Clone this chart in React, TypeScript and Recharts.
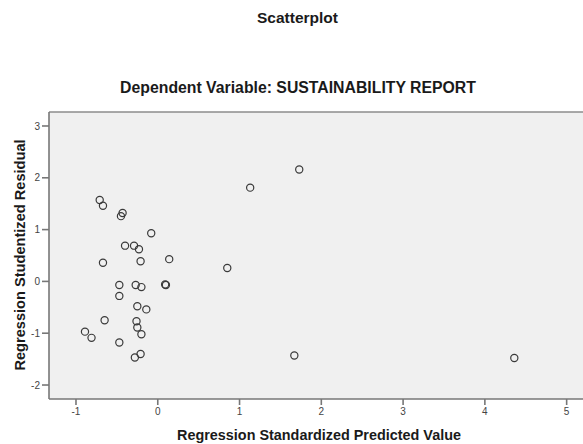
import { ScatterChart, Scatter, XAxis, YAxis, CartesianGrid, ReferenceLine } from "recharts";

// standardized predicted values (x) and studentized residuals (y)
const predicted = [
  -0.71, -0.67, -0.43, -0.45, -0.08, -0.4, -0.29, -0.23, -0.67, -0.21, 0.14,
  1.13, 1.73, 0.85, -0.47, -0.27, -0.2, 0.09, 0.1, -0.47, -0.25, -0.14,
  -0.65, -0.26, -0.25, -0.2, -0.89, -0.81, -0.47, -0.21, -0.28, 1.67, 4.36,
];
const residuals = [
  1.57, 1.46, 1.32, 1.26, 0.93, 0.69, 0.69, 0.62, 0.36, 0.39, 0.43,
  1.81, 2.16, 0.26, -0.07, -0.07, -0.11, -0.06, -0.07, -0.28, -0.48, -0.54,
  -0.75, -0.77, -0.89, -1.02, -0.97, -1.09, -1.18, -1.4, -1.47, -1.43, -1.48,
];
const xTicks = [-1, 0, 1, 2, 3, 4, 5];
const yTicks = [-2, -1, 0, 1, 2, 3];

const X_DOMAIN: [number, number] = [-1.33, 5.2];
const Y_DOMAIN: [number, number] = [-2.27, 3.27];

const points = predicted.map((x, i) => ({ x, y: residuals[i] }));

const font = "'Liberation Sans', Arial, sans-serif";

const Ring = (props: any) => {
  const { cx, cy } = props;
  if (cx == null || cy == null) return null;
  return <circle cx={cx} cy={cy} r={3.6} fill="none" stroke="#3a3a3a" strokeWidth={1.2} />;
};

export default function App() {
  return (
    <div style={{ position: "absolute", left: 0, top: 0, width: 583, height: 444, background: "#fff", fontFamily: font }}>
      <ScatterChart width={583} height={444} margin={{ top: 112, right: 0, bottom: 0, left: 0 }}>
        <CartesianGrid fill="#f0f0f0" horizontal={false} vertical={false} />
        <XAxis
          type="number"
          dataKey="x"
          domain={X_DOMAIN}
          ticks={xTicks}
          allowDataOverflow
          height={45}
          tickSize={6}
          tickMargin={3}
          stroke="#777"
          strokeWidth={1.6}
          tick={{ fontSize: 10, fill: "#444", fontFamily: font }}
        />
        <YAxis
          type="number"
          dataKey="y"
          domain={Y_DOMAIN}
          ticks={yTicks}
          allowDataOverflow
          width={49}
          tickSize={7}
          tickMargin={2}
          stroke="#777"
          strokeWidth={1.6}
          tick={{ fontSize: 10, fill: "#444", fontFamily: font }}
        />
        <ReferenceLine y={Y_DOMAIN[1]} stroke="#8c8c8c" strokeWidth={1.4} />
        <Scatter data={points} shape={Ring} isAnimationActive={false} />
      </ScatterChart>
      <svg width={583} height={444} style={{ position: "absolute", left: 0, top: 0, pointerEvents: "none" }}>
        <text x={297.5} y={23} textAnchor="middle" fontSize={15.5} fontWeight="bold" fill="#1a1a1a" fontFamily={font}>
          Scatterplot
        </text>
        <text x={298} y={93} textAnchor="middle" fontSize={15.8} fontWeight="bold" fill="#1a1a1a" fontFamily={font}>
          Dependent Variable: SUSTAINABILITY REPORT
        </text>
        <text x={319} y={440} textAnchor="middle" fontSize={14.4} fontWeight="bold" fill="#1a1a1a" fontFamily={font}>
          Regression Standardized Predicted Value
        </text>
        <text
          x={25}
          y={255}
          textAnchor="middle"
          fontSize={14.6}
          fontWeight="bold"
          fill="#1a1a1a"
          fontFamily={font}
          transform="rotate(-90 25 255)"
        >
          Regression Studentized Residual
        </text>
      </svg>
    </div>
  );
}
